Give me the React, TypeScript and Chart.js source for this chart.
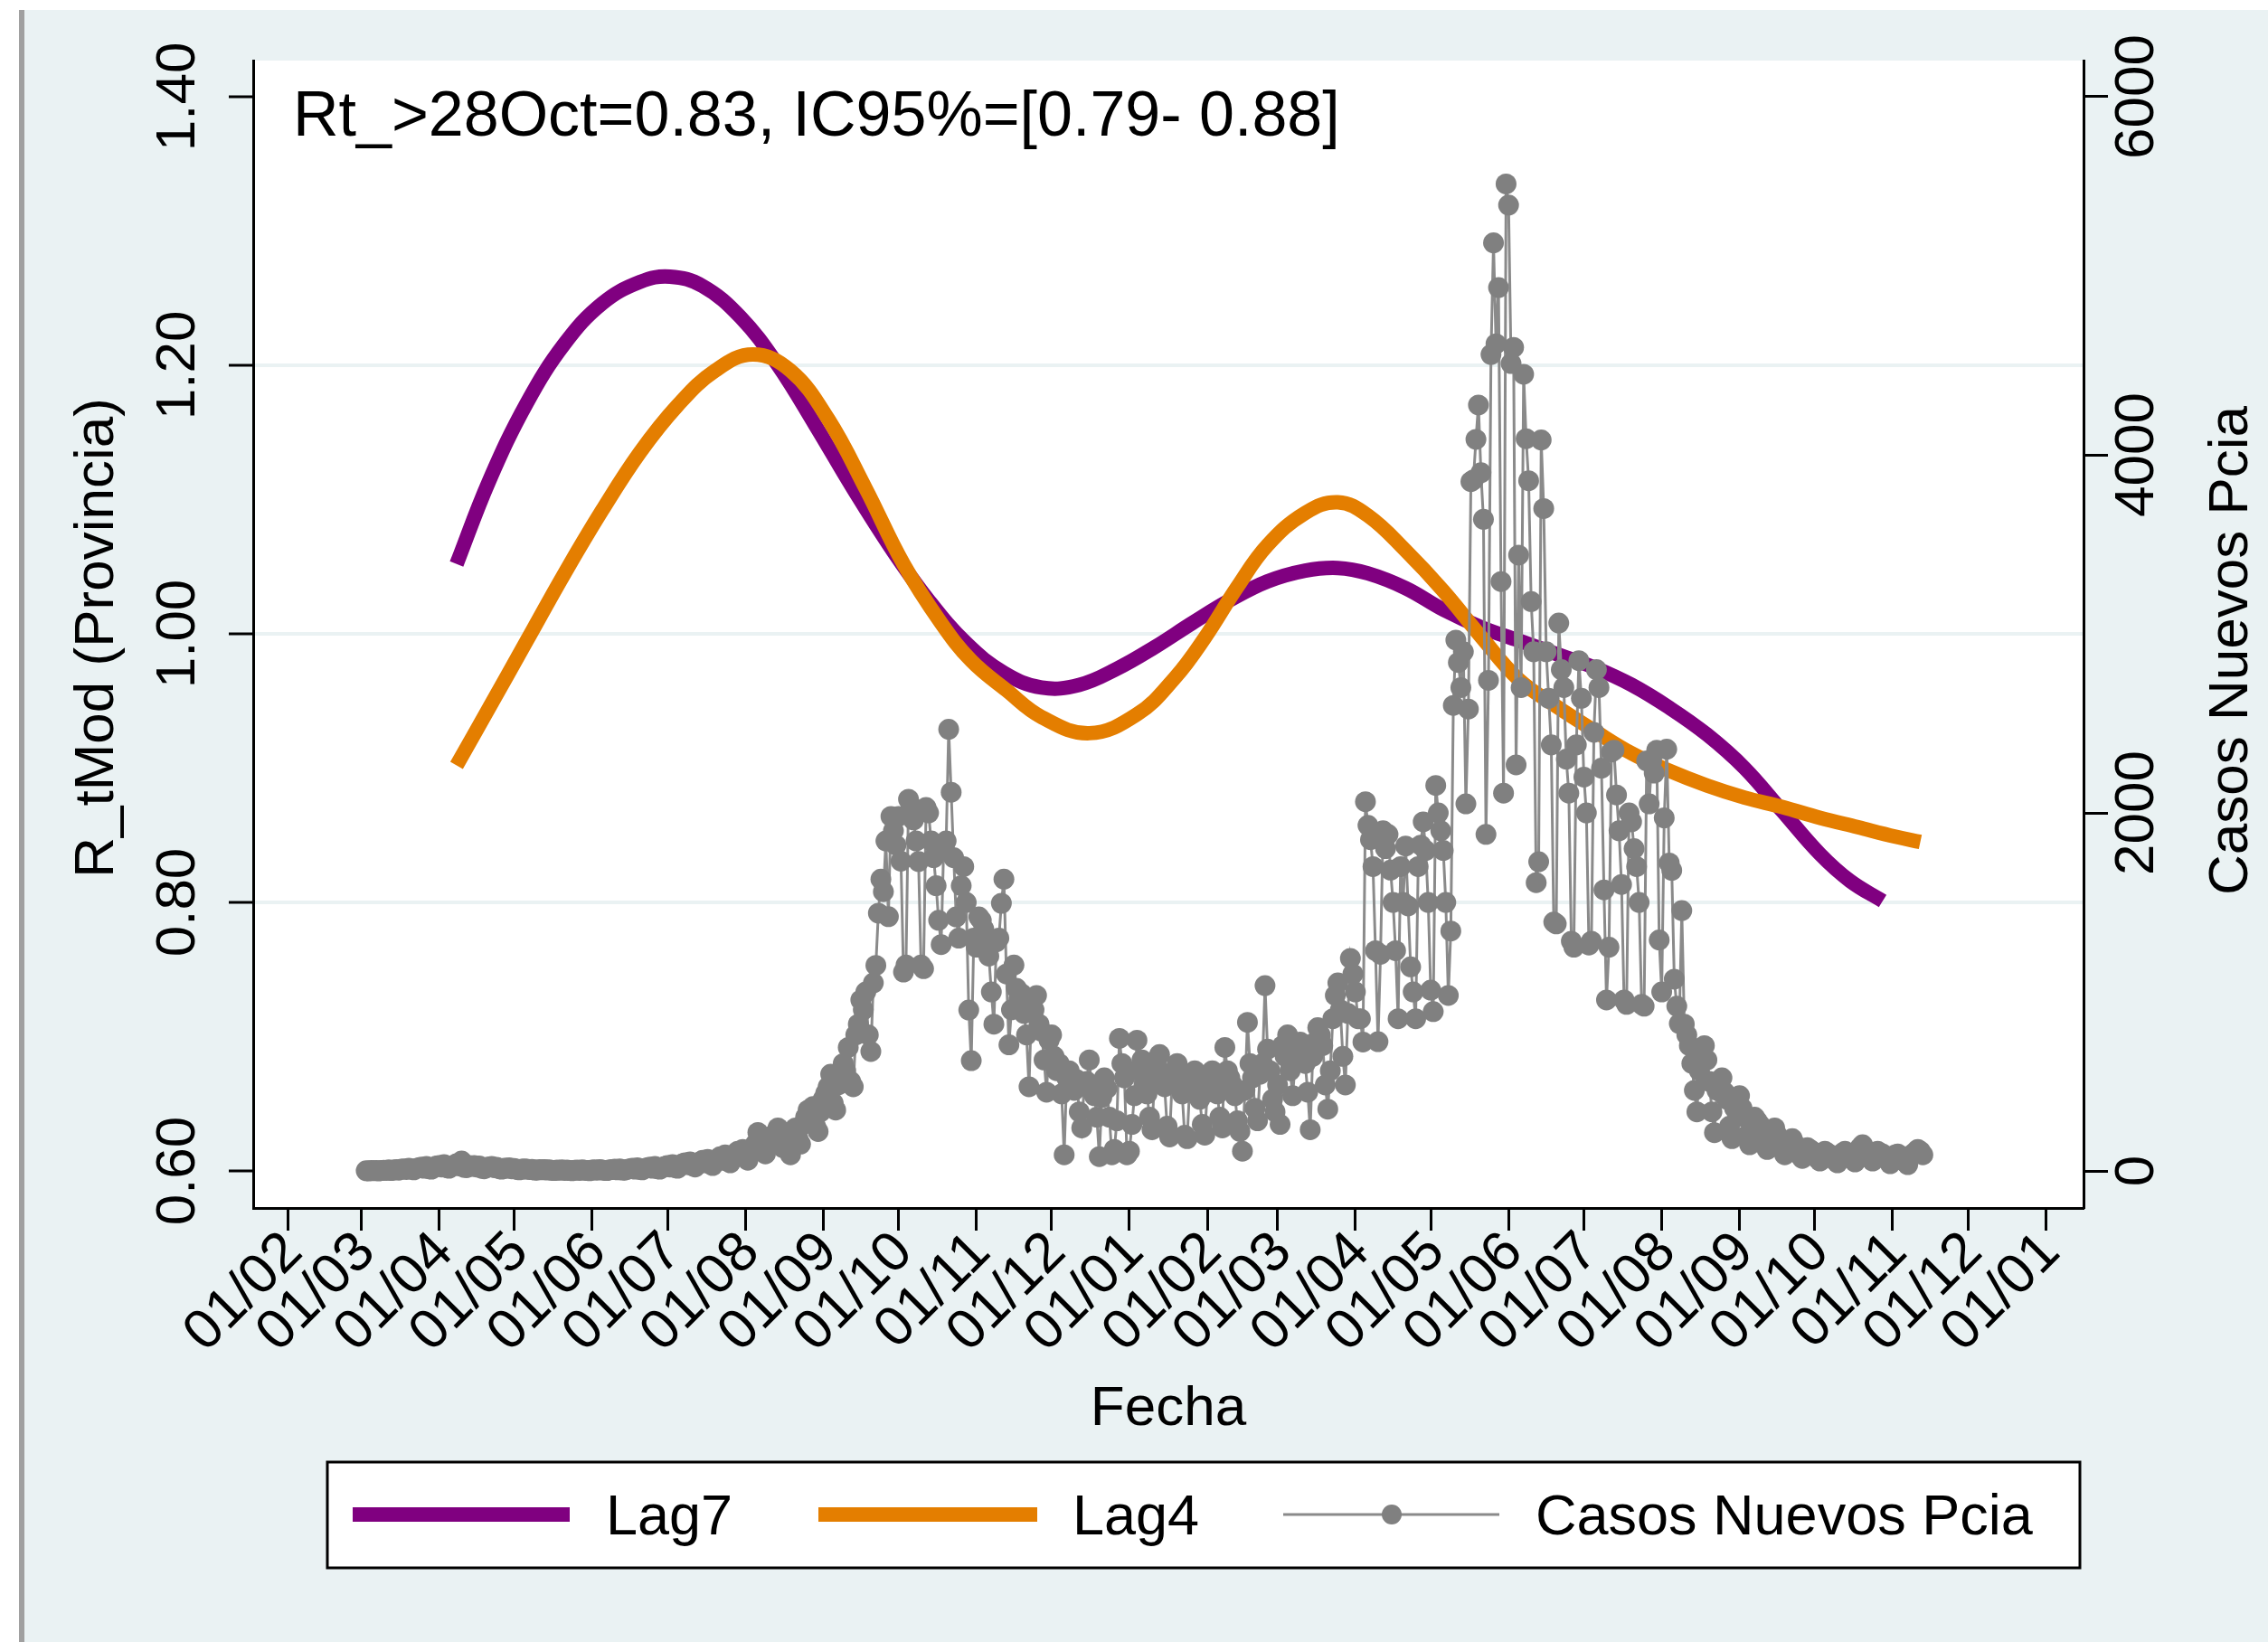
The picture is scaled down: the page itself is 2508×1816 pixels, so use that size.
import React, { useEffect, useRef } from "react";
import { Chart, registerables } from "chart.js";

Chart.register(...registerables);

const FONT = '"Liberation Sans", Arial, Helvetica, sans-serif';

// ---- x axis: days counted from 2020-02-01 ----
const ORIGIN = Date.UTC(2020, 1, 1);
const dayOf = (y: number, m: number, d: number) => Math.round((Date.UTC(y, m, d) - ORIGIN) / 86400000);
const xTickDays = Array.from({ length: 24 }, (_, k) => dayOf(2020, 1 + k, 1));
const xTickLabels = [
  "01/02", "01/03", "01/04", "01/05", "01/06", "01/07", "01/08", "01/09", "01/10", "01/11", "01/12", "01/01",
  "01/02", "01/03", "01/04", "01/05", "01/06", "01/07", "01/08", "01/09", "01/10", "01/11", "01/12", "01/01",
];

// ---- y axes ----
const leftTicks = [0.6, 0.8, 1.0, 1.2, 1.4];
const leftTickLabels = ["0.60", "0.80", "1.00", "1.20", "1.40"];
const leftGrid = [0.8, 1.0, 1.2];
const rightTicks = [0, 2000, 4000, 6000];
const rightTickLabels = ["0", "2000", "4000", "6000"];

// ---- Lag7 (days since 2020-02-01, R value) ----
const lag7Day = [67, 80, 95, 110, 125, 140, 152, 165, 180, 195, 210, 225, 240, 255, 270, 285, 300, 315, 330, 345, 360, 375, 390, 405, 418, 430, 445, 460, 475, 490, 505, 520, 535, 550, 565, 580, 595, 610, 622, 635];
const lag7R = [1.052, 1.114, 1.172, 1.216, 1.246, 1.262, 1.266, 1.259, 1.236, 1.200, 1.155, 1.108, 1.064, 1.025, 0.993, 0.971, 0.960, 0.962, 0.974, 0.990, 1.008, 1.025, 1.039, 1.047, 1.049, 1.045, 1.034, 1.018, 1.005, 0.995, 0.985, 0.975, 0.962, 0.945, 0.925, 0.900, 0.868, 0.836, 0.816, 0.801];

// ---- Lag4 ----
const lag4Day = [67, 80, 95, 110, 125, 140, 155, 170, 185, 200, 215, 230, 245, 260, 272, 286, 300, 319, 338, 353, 365, 378, 390, 405, 418, 430, 445, 460, 475, 490, 505, 520, 535, 550, 565, 580, 595, 610, 625, 640, 650];
const lag4R = [0.902, 0.945, 0.995, 1.045, 1.092, 1.135, 1.170, 1.196, 1.208, 1.196, 1.160, 1.108, 1.052, 1.008, 0.980, 0.958, 0.938, 0.926, 0.940, 0.967, 0.997, 1.035, 1.066, 1.090, 1.098, 1.088, 1.062, 1.032, 0.998, 0.966, 0.946, 0.928, 0.911, 0.898, 0.887, 0.878, 0.871, 0.863, 0.856, 0.849, 0.845];

// ---- Casos nuevos (daily, first value = 2020-03-03) ----
const casosStartDay = dayOf(2020, 2, 3);
const casosNuevos = [
  1, 0, 2, 1, 3, 0, 2,
  4, 3, 6, 2, 5, 8, 4,
  10, 12, 8, 15, 9, 6, 14,
  18, 22, 15, 25, 12, 10, 20,
  28, 30, 22, 35, 18, 15, 25,
  32, 40, 28, 55, 20, 18, 30,
  25, 30, 22, 28, 15, 12, 20,
  22, 25, 18, 20, 12, 10, 15,
  15, 18, 12, 14, 8, 6, 10,
  12, 10, 8, 9, 5, 4, 8,
  6, 8, 5, 7, 3, 2, 5,
  4, 6, 3, 5, 2, 1, 4,
  5, 3, 6, 4, 2, 1, 5,
  6, 4, 8, 5, 3, 2, 7,
  8, 10, 6, 12, 5, 4, 9,
  12, 15, 10, 18, 8, 6, 14,
  18, 22, 15, 25, 12, 10, 20,
  25, 30, 22, 35, 18, 15, 28,
  40, 45, 35, 50, 28, 22, 42,
  50, 60, 45, 65, 40, 30, 55,
  65, 80, 60, 90, 55, 45, 75,
  90, 110, 85, 120, 75, 60, 100,
  130, 150, 215, 170, 110, 95, 140,
  180, 200, 165, 240, 150, 130, 190,
  200, 90, 210, 240, 180, 150, 260,
  300, 340, 280, 360, 250, 220, 330,
  400, 434, 470, 540, 380, 340, 480,
  520, 600, 560, 690, 500, 470, 760,
  820, 955, 900, 1000, 760, 667, 1050,
  1148, 1440, 1630, 1560, 1843, 1420, 1980,
  1900, 1820, 1980, 1730, 1111, 1150, 2076,
  2040, 1960, 1843, 1728, 1150, 1130, 2030,
  2000, 1843, 1750, 1593, 1400, 1264, 1800,
  1843, 2467, 2115, 1750, 1419, 1300, 1593,
  1700, 1500, 899, 616, 1300, 1250, 1419,
  1400, 1350, 1300, 1200, 1000, 820, 1280,
  1300, 1495, 1630, 1100, 704, 900, 1150,
  1020, 960, 990, 880, 760, 470, 920,
  900, 980, 820, 780, 620, 440, 730,
  760, 640, 560, 600, 430, 90, 520,
  560, 480, 450, 510, 330, 240, 480,
  500, 620, 450, 420, 300, 80, 410,
  520, 460, 300, 90, 120, 280, 740,
  600, 520, 90, 110, 260, 420, 730,
  560, 620, 480, 430, 300, 230, 520,
  580, 650, 540, 470, 250, 190, 500,
  560, 600, 520, 430, 200, 180, 470,
  500, 560, 480, 400, 260, 200, 440,
  520, 560, 470, 430, 300, 240, 690,
  560, 520, 480, 420, 280, 220, 110,
  450, 830, 600, 520, 350, 280, 540,
  600, 1035, 680, 560, 400, 330, 480,
  260, 700, 640, 760, 560, 420, 600,
  680, 720, 650, 600, 440, 230, 640,
  720, 800, 760, 700, 480, 345, 560,
  850, 980, 1050, 900, 640, 480, 880,
  1187, 1100, 1000, 850, 850, 720, 2062,
  1930, 1850, 1700, 1230, 722, 1210, 1900,
  1800, 1880, 1680, 1500, 1230, 850, 1700,
  1500, 1815, 1480, 1140, 1000, 850, 1700,
  1820, 1950, 1790, 1500, 1010, 890, 2153,
  2000, 1900, 1790, 1500, 980, 1340, 2600,
  2965, 2840, 2700, 2900, 2050, 2580, 3850,
  3860, 4086, 4278, 3900, 3640, 1880, 2740,
  4560, 5184, 4620, 4934, 3292, 2110, 5513,
  5395, 4510, 4600, 2268, 3440, 2700, 4450,
  4090, 3855, 3180, 2900, 1610, 1727, 4083,
  3700, 2900, 2640, 2380, 1390, 1380, 3060,
  2800, 2700, 2300, 2110, 1283, 1250, 2380,
  2850, 2640, 2200, 2000, 1262, 1283, 2450,
  2800, 2700, 2250, 1570, 955, 1250, 2340,
  2350, 2100, 1900, 1600, 955, 930, 2000,
  1950, 1800, 1700, 1500, 930, 920, 2290,
  2050, 2290, 2222, 2350, 1290, 1000, 1972,
  2356, 1720, 1679, 1071, 920, 823, 1454,
  820, 760, 700, 600, 450, 330, 560,
  640, 700, 620, 500, 330, 214, 450,
  480, 520, 440, 400, 250, 180, 350,
  400, 420, 350, 300, 200, 146, 260,
  300, 280, 260, 220, 150, 120, 200,
  220, 240, 200, 170, 120, 90, 150,
  160, 180, 150, 130, 90, 70, 110,
  130, 120, 110, 100, 70, 55, 90,
  110, 100, 90, 85, 60, 45, 80,
  100, 110, 95, 90, 65, 50, 85,
  130, 146, 120, 100, 70, 55, 90,
  110, 100, 95, 80, 60, 40, 75,
  90, 95, 85, 70, 50, 35, 80,
  95, 105, 120, 110, 90,
];

const annotationText = "Rt_>28Oct=0.83, IC95%=[0.79- 0.88]";
const xTitle = "Fecha";
const yTitle = "R_tMod (Provincia)";
const y1Title = "Casos Nuevos Pcia";

const PURPLE = "rgb(128,0,128)";
const ORANGE = "rgb(228,126,0)";
const GRAY_MARK = "rgb(128,128,128)";
const GRAY_LINE = "rgb(138,138,138)";
const BG = "rgb(234,242,243)";

const W = 2508;
const H = 1816;

const decorPlugin = {
  id: "decor",
  beforeDraw(chart: any) {
    const { ctx, chartArea: a } = chart;
    ctx.save();
    ctx.fillStyle = "#ffffff";
    ctx.fillRect(0, 0, W, H);
    ctx.fillStyle = BG;
    ctx.fillRect(27, 11, W - 27, H - 11);
    ctx.fillStyle = "rgb(160,160,160)";
    ctx.fillRect(21, 11, 6, H - 11);
    ctx.fillStyle = "#ffffff";
    ctx.fillRect(a.left, a.top, a.right - a.left, a.bottom - a.top);
    ctx.restore();
  },
  afterDraw(chart: any) {
    const { ctx, chartArea: a, scales } = chart;
    const yL = scales.y;
    const yR = scales.y1;
    const xs = scales.x;
    const midY = (a.top + a.bottom) / 2;
    ctx.save();
    ctx.fillStyle = "#000";
    ctx.font = `62px ${FONT}`;
    ctx.textAlign = "center";
    ctx.textBaseline = "middle";
    const rotText = (t: string, x: number, y: number) => {
      ctx.save();
      ctx.translate(x, y);
      ctx.rotate(-Math.PI / 2);
      ctx.fillText(t, 0, 0);
      ctx.restore();
    };
    leftTicks.forEach((v, i) => rotText(leftTickLabels[i], a.left - 82, yL.getPixelForValue(v)));
    rightTicks.forEach((v, i) => rotText(rightTickLabels[i], a.right + 60, yR.getPixelForValue(v)));
    rotText(yTitle, 108, midY + 4);
    rotText(y1Title, 2468, midY + 18);

    // x tick labels at 45 degrees
    ctx.textAlign = "right";
    xTickDays.forEach((d, i) => {
      const px = xs.getPixelForValue(d);
      ctx.save();
      ctx.translate(px + 6, a.bottom + 39);
      ctx.rotate(-Math.PI / 4);
      ctx.fillText(xTickLabels[i], 0, 0);
      ctx.restore();
    });

    ctx.textAlign = "center";
    ctx.textBaseline = "alphabetic";
    ctx.fillText(xTitle, (a.left + a.right) / 2, 1576);

    // annotation
    ctx.textAlign = "left";
    ctx.font = `70px ${FONT}`;
    ctx.fillText(annotationText, a.left + 44, 150);

    // legend
    const lx = 362, ly = 1617, lw = 2300 - 362, lh = 1734 - 1617;
    ctx.fillStyle = "#fff";
    ctx.fillRect(lx, ly, lw, lh);
    ctx.strokeStyle = "#000";
    ctx.lineWidth = 3;
    ctx.strokeRect(lx, ly, lw, lh);
    const lineY = 1675;
    const seg = (x1: number, x2: number, color: string, w: number) => {
      ctx.beginPath();
      ctx.moveTo(x1, lineY);
      ctx.lineTo(x2, lineY);
      ctx.strokeStyle = color;
      ctx.lineWidth = w;
      ctx.lineCap = "butt";
      ctx.stroke();
    };
    seg(390, 630, PURPLE, 16);
    seg(905, 1147, ORANGE, 16);
    seg(1419, 1658, GRAY_LINE, 3);
    ctx.beginPath();
    ctx.arc(1539, lineY, 11, 0, Math.PI * 2);
    ctx.fillStyle = GRAY_MARK;
    ctx.fill();
    ctx.fillStyle = "#000";
    ctx.font = `63px ${FONT}`;
    ctx.textAlign = "left";
    ctx.fillText("Lag7", 670, 1697);
    ctx.fillText("Lag4", 1186, 1697);
    ctx.fillText(y1Title, 1698, 1697);
    ctx.restore();
  },
};

export default function App() {
  const ref = useRef<HTMLCanvasElement | null>(null);
  useEffect(() => {
    if (!ref.current) return;
    const casosPts = casosNuevos.map((v, i) => ({ x: casosStartDay + i, y: v }));
    const lag7Pts = lag7Day.map((d, i) => ({ x: d, y: lag7R[i] }));
    const lag4Pts = lag4Day.map((d, i) => ({ x: d, y: lag4R[i] }));
    const chart = new Chart(ref.current, {
      type: "line",
      data: {
        datasets: [
          {
            label: y1Title,
            yAxisID: "y1",
            data: casosPts,
            borderColor: GRAY_LINE,
            borderWidth: 3,
            pointRadius: 11.5,
            pointHoverRadius: 11.5,
            pointBackgroundColor: GRAY_MARK,
            pointBorderWidth: 0,
            tension: 0,
            order: 0,
          },
          {
            label: "Lag4",
            yAxisID: "y",
            data: lag4Pts,
            borderColor: ORANGE,
            borderWidth: 16,
            pointRadius: 0,
            tension: 0.4,
            order: 1,
          },
          {
            label: "Lag7",
            yAxisID: "y",
            data: lag7Pts,
            borderColor: PURPLE,
            borderWidth: 16,
            pointRadius: 0,
            tension: 0.4,
            order: 2,
          },
        ] as any,
      },
      options: {
        responsive: false,
        animation: false,
        devicePixelRatio: 1,
        events: [],
        layout: { padding: { top: 67, left: 0, right: 0, bottom: 0 } },
        plugins: {
          legend: { display: false },
          tooltip: { enabled: false },
        },
        scales: {
          x: {
            type: "linear",
            position: "bottom",
            min: -14,
            max: 715,
            afterBuildTicks: (s: any) => {
              s.ticks = xTickDays.map((v) => ({ value: v }));
            },
            afterFit: (s: any) => {
              s.height = 480;
            },
            ticks: { display: false },
            grid: {
              drawOnChartArea: false,
              drawTicks: true,
              tickLength: 25,
              tickWidth: 3,
              tickColor: "#000",
              color: "#000",
            },
            border: { display: true, color: "#000", width: 3 },
          },
          y: {
            type: "linear",
            position: "left",
            min: 0.5724,
            max: 1.4269,
            afterBuildTicks: (s: any) => {
              s.ticks = leftTicks.map((v) => ({ value: v }));
            },
            afterFit: (s: any) => {
              s.width = 280;
            },
            ticks: { display: false },
            grid: {
              drawOnChartArea: true,
              drawTicks: true,
              tickLength: 27,
              tickWidth: 3,
              tickColor: "#000",
              lineWidth: 4,
              color: (c: any) =>
                c.tick && leftGrid.some((g) => Math.abs(g - c.tick.value) < 1e-6) ? BG : "rgba(0,0,0,0)",
            },
            border: { display: true, color: "#000", width: 3 },
          },
          y1: {
            type: "linear",
            position: "right",
            min: -207,
            max: 6202,
            afterBuildTicks: (s: any) => {
              s.ticks = rightTicks.map((v) => ({ value: v }));
            },
            afterFit: (s: any) => {
              s.width = 204;
            },
            ticks: { display: false },
            grid: {
              drawOnChartArea: false,
              drawTicks: true,
              tickLength: 27,
              tickWidth: 3,
              tickColor: "#000",
              color: "#000",
            },
            border: { display: true, color: "#000", width: 3 },
          },
        },
      } as any,
      plugins: [decorPlugin],
    });
    return () => chart.destroy();
  }, []);

  return (
    <div style={{ position: "absolute", left: 0, top: 0, width: W, height: H }}>
      <canvas ref={ref} width={W} height={H} style={{ display: "block", width: W, height: H }} />
    </div>
  );
}
